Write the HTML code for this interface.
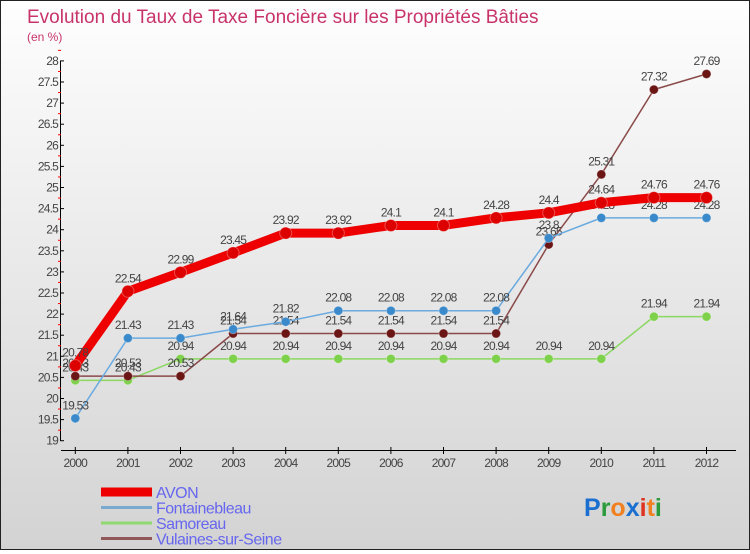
<!DOCTYPE html>
<html><head><meta charset="utf-8"><style>
html,body{margin:0;padding:0}
body{width:750px;height:550px;overflow:hidden;font-family:"Liberation Sans",sans-serif}
#wrap{position:relative;width:748px;height:548px;border:1px solid #222;background:linear-gradient(#fefefe,#d3d3d3)}
</style></head><body>
<div id="wrap">
<svg id="chart" width="748" height="548" xmlns="http://www.w3.org/2000/svg"></svg>
</div>
<script>
const years=["2000","2001","2002","2003","2004","2005","2006","2007","2008","2009","2010","2011","2012"];
const avon=[20.78,22.54,22.99,23.45,23.92,23.92,24.1,24.1,24.28,24.4,24.64,24.76,24.76];
const fontainebleau=[19.53,21.43,21.43,21.64,21.82,22.08,22.08,22.08,22.08,23.8,24.28,24.28,24.28];
const samoreau=[20.43,20.43,20.94,20.94,20.94,20.94,20.94,20.94,20.94,20.94,20.94,21.94,21.94];
const vulaines=[20.53,20.53,20.53,21.54,21.54,21.54,21.54,21.54,21.54,23.65,25.31,27.32,27.69];
const yTicks=[19,19.5,20,20.5,21,21.5,22,22.5,23,23.5,24,24.5,25,25.5,26,26.5,27,27.5,28];
const seriesNames=["AVON","Fontainebleau","Samoreau","Vulaines-sur-Seine"];

const svg=document.getElementById('chart');
const NS="http://www.w3.org/2000/svg";
const x=i=>74.3+i*52.6;
const y=v=>439.7-(v-19)*42.2;
function mk(tag,attrs,parent){const e=document.createElementNS(NS,tag);for(const k in attrs)e.setAttribute(k,attrs[k]);(parent||svg).appendChild(e);return e;}

let t=mk('text',{x:26,y:22,fill:'#c8336a','font-size':19});t.textContent="Evolution du Taux de Taxe Foncière sur les Propriétés Bâties";


t=mk('text',{x:26,y:40,fill:'#c8336a','font-size':12});t.textContent="(en %)";



// y axis
let ya=mk('line',{x1:59.5,y1:y(28),x2:59.5,y2:y(19),stroke:'#000','stroke-width':1});


yTicks.forEach(v=>{
  mk('line',{x1:59,y1:y(v),x2:63,y2:y(v),stroke:'#000'});
  mk('line',{x1:57,y1:y(v+0.25),x2:60,y2:y(v+0.25),stroke:'#f00'});
  const tl=mk('text',{x:57,y:y(v)+4,'text-anchor':'end','font-size':12,fill:'#444','letter-spacing':'-0.8'});
  tl.textContent=String(v);
  
  
});
// x axis
let xa=mk('line',{x1:60,y1:449.5,x2:735,y2:449.5,stroke:'#000'});


years.forEach((yr,i)=>{
  mk('line',{x1:x(i),y1:446,x2:x(i),y2:453,stroke:'#000'});
  const tl=mk('text',{x:x(i),y:466,'text-anchor':'middle','font-size':12,fill:'#444','letter-spacing':'-0.8'});
  tl.textContent=yr;
  
  
});

function series(data,color,dot,w,r,name){
  const g=mk('g',{});
  
  
  mk('polyline',{points:data.map((v,i)=>x(i)+','+y(v)).join(' '),fill:'none',stroke:color,'stroke-width':w,'stroke-linejoin':'round'},g);
  data.forEach((v,i)=>{
    const c=mk('circle',{cx:x(i),cy:y(v),r:r,fill:dot,stroke:'#fff','stroke-opacity':0.3},g);
    
    
    const l=mk('text',{x:x(i),y:y(v)-9,'text-anchor':'middle','font-size':12,fill:'#444','letter-spacing':'-0.8'},g);
    l.textContent=String(v);
  });
}
series(samoreau,'#8ad860','#7ed14a',1.5,4.5,'samoreau');
series(vulaines,'#8a4a4a','#6b1515',1.5,4.5,'vulaines');
series(fontainebleau,'#6aaae0','#3a8acb',1.5,4.5,'fontainebleau');
series(avon,'#ee0000','#dd0000',9,6,'avon');

// legend
const legColors=['#ee0000','#7aaad0','#90d870','#905858'];
const legW=[9,3,3,3];
seriesNames.forEach((n,i)=>{
  const yy=491+i*15.5;
  const g=mk('g',{});
  
  
  mk('line',{x1:100,y1:yy,x2:151,y2:yy,stroke:legColors[i],'stroke-width':legW[i]},g);
  const tl=mk('text',{x:155,y:yy+6,'font-size':16,fill:'#6666ee','letter-spacing':'-0.5'},g);
  tl.textContent=n;
});

// logo
const logo=mk('text',{x:583,y:515,'font-size':25,'font-weight':'bold','font-family':'"Liberation Sans",sans-serif'});


[['P','#1a6fd0'],['r','#2a9a3a'],['o','#f08020'],['x','#1a6fd0'],['i','#e03020'],['t','#f08020'],['i','#2a9a3a']].forEach(([c,col])=>{
  const s=mk('tspan',{fill:col},logo);s.textContent=c;
});
</script>
</body></html>
